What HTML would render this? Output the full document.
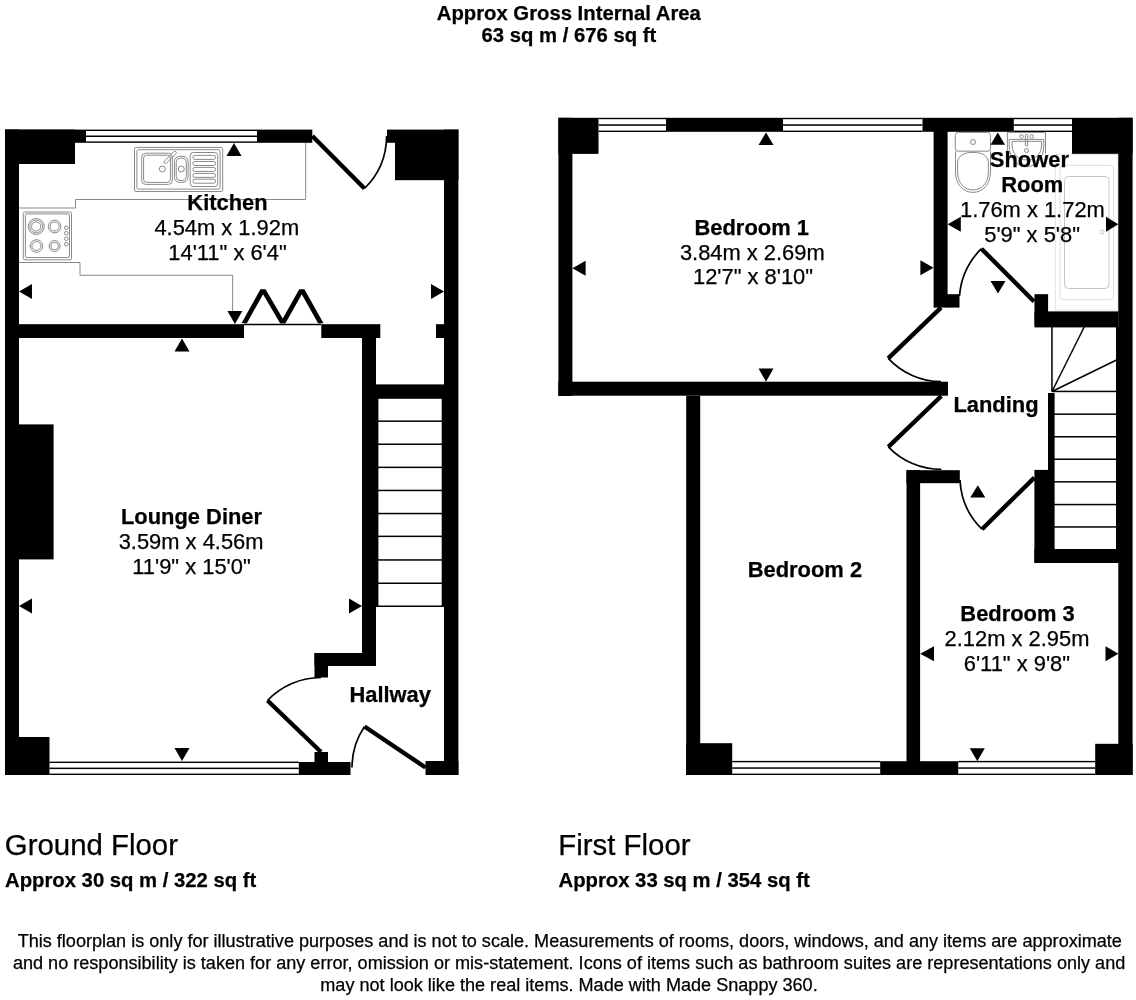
<!DOCTYPE html>
<html>
<head>
<meta charset="utf-8">
<style>
html,body{margin:0;padding:0;background:#fff;}
body{width:1136px;height:1000px;overflow:hidden;}
svg{display:block;will-change:transform;}
text{font-family:"Liberation Sans",sans-serif;fill:#000;stroke:#000;stroke-width:0.25px;}
.b{font-weight:bold;}
.rl{font-size:21.9px;text-anchor:middle;}
.fx{fill:none;stroke:#8a8a8a;stroke-width:1;}
.fl{fill:none;stroke:#c4c4c4;stroke-width:1;}
.leaf{stroke:#000;stroke-width:4.4;fill:none;}
.arc{stroke:#000;stroke-width:1.7;fill:none;}
.tl{stroke:#000;stroke-width:1.5;fill:none;}
</style>
</head>
<body>
<svg width="1136" height="1000" viewBox="0 0 1136 1000">
<rect x="0" y="0" width="1136" height="1000" fill="#fff"/>

<!-- ===== TITLE ===== -->
<text x="568.8" y="19.8" class="b" font-size="20.3" text-anchor="middle">Approx Gross Internal Area</text>
<text x="568.9" y="41.7" class="b" font-size="20.3" text-anchor="middle">63 sq m / 676 sq ft</text>

<!-- ===== GROUND FLOOR ===== -->
<g id="gf">
<!-- kitchen fixtures -->
<g class="fx">
  <path d="M19 208 H75.5 V199.5 H305.7 V143"/>
  <path d="M19 262.5 H80 V275.3 H232.6 V311"/>
  <rect x="134.5" y="147.4" width="88.2" height="44.1" rx="1.5"/>
  <rect x="136.9" y="149.7" width="83.2" height="39.4" rx="1.5"/>
  <rect x="141.7" y="153.2" width="30.6" height="31.2" rx="4"/>
  <rect x="143.6" y="155.2" width="26.8" height="27.2" rx="3"/>
  <rect x="174.4" y="156.4" width="13.7" height="25.9" rx="5"/>
  <rect x="176.2" y="158.2" width="10.1" height="22.3" rx="4"/>
  <rect x="190.2" y="152.5" width="27.5" height="34" rx="3"/>
  <rect x="192.9" y="155.4" width="22.7" height="4" rx="2"/>
  <rect x="192.9" y="161.5" width="22.7" height="4" rx="2"/>
  <rect x="192.9" y="167.4" width="22.7" height="4" rx="2"/>
  <rect x="192.9" y="173.4" width="22.7" height="4" rx="2"/>
  <rect x="192.9" y="179.2" width="22.7" height="4" rx="2"/>
  <circle cx="162.3" cy="169" r="3"/>
  <circle cx="181.3" cy="169" r="3"/>
  <path d="M164.4 161.2 L173.9 151.7 A1.4 1.4 0 0 1 175.9 153.7 L166.4 163.2 A1.4 1.4 0 0 1 164.4 161.2 Z"/>
  <!-- hob -->
  <rect x="23.3" y="212" width="48.2" height="47.8" rx="1.5"/>
  <rect x="25.4" y="213.9" width="44.1" height="43.6" rx="1.5"/>
  <circle cx="36.2" cy="226.5" r="8"/>
  <circle cx="36.2" cy="226.5" r="6.4"/>
  <circle cx="36.2" cy="226.5" r="4.6"/>
  <circle cx="54.6" cy="226.5" r="6.3"/>
  <circle cx="54.6" cy="226.5" r="4.5"/>
  <circle cx="36.4" cy="246" r="6.3"/>
  <circle cx="36.4" cy="246" r="4.5"/>
  <circle cx="54.6" cy="246" r="5.5"/>
  <circle cx="54.6" cy="246" r="3.8"/>
  <circle cx="66.3" cy="227.8" r="1.8"/>
  <circle cx="66.3" cy="233.2" r="1.8"/>
  <circle cx="66.3" cy="238.7" r="1.8"/>
  <circle cx="66.3" cy="244.2" r="1.8"/>
</g>

<!-- walls -->
<g fill="#000">
  <rect x="5" y="129.6" width="14" height="645.4"/>
  <rect x="5" y="129.6" width="81" height="13.2"/>
  <rect x="5" y="129.6" width="70" height="34.4"/>
  <rect x="257" y="129.6" width="55.3" height="13.2"/>
  <rect x="387" y="129.6" width="8" height="13.2"/>
  <rect x="395" y="129.6" width="63.4" height="50.6"/>
  <rect x="444" y="129.6" width="14.4" height="645.4"/>
  <rect x="5" y="324.2" width="239" height="13.8"/>
  <rect x="321.3" y="324.2" width="59" height="13.8"/>
  <rect x="436" y="324.2" width="8" height="13.8"/>
  <rect x="362" y="338" width="14" height="328"/>
  <rect x="376" y="384.4" width="68" height="14.4"/>
  <rect x="314.5" y="653" width="61.5" height="13"/>
  <rect x="314.5" y="653" width="13.5" height="24.5"/>
  <rect x="19" y="424.4" width="34.6" height="135"/>
  <rect x="5" y="737" width="44.5" height="38"/>
  <rect x="298.8" y="762" width="51.7" height="13"/>
  <rect x="314.5" y="752" width="13.5" height="10.5"/>
  <rect x="425.5" y="761" width="32.9" height="14"/>
  <!-- windows -->
  <rect x="86" y="129.6" width="171" height="1.4"/>
  <rect x="86" y="135.5" width="171" height="1.5"/>
  <rect x="86" y="141.4" width="171" height="1.4"/>
  <rect x="49.5" y="761.6" width="249.3" height="1.4"/>
  <rect x="49.5" y="767.6" width="249.3" height="1.5"/>
  <rect x="49.5" y="773.6" width="249.3" height="1.4"/>
  <!-- stairs border -->
  <rect x="376" y="398" width="2.4" height="208.5"/>
  <rect x="441.7" y="398" width="2.5" height="208.5"/>
  <!-- treads -->
  <rect x="376" y="420.4" width="68" height="1.5"/>
  <rect x="376" y="443.5" width="68" height="1.5"/>
  <rect x="376" y="466.6" width="68" height="1.5"/>
  <rect x="376" y="489.7" width="68" height="1.5"/>
  <rect x="376" y="512.8" width="68" height="1.5"/>
  <rect x="376" y="535.6" width="68" height="1.5"/>
  <rect x="376" y="559.2" width="68" height="1.5"/>
  <rect x="376" y="582.5" width="68" height="1.5"/>
  <rect x="376" y="605.5" width="68" height="1.5"/>
  <!-- arrows -->
  <polygon points="234,143 226.5,156 241.5,156"/>
  <polygon points="19,291.6 32,284.1 32,299.1"/>
  <polygon points="444,291.6 431,284.1 431,299.1"/>
  <polygon points="234.9,324 227.4,311 242.4,311"/>
  <polygon points="182,338.6 174.5,351.4 189.5,351.4"/>
  <polygon points="19,606 32,598.5 32,613.5"/>
  <polygon points="362,606 349,598.5 349,613.5"/>
  <polygon points="182,761 174.5,748 189.5,748"/>
</g>
<!-- doors -->
<line class="leaf" x1="312.3" y1="136" x2="364.5" y2="188.5"/>
<path class="arc" d="M364.5 188.5 A74 74 0 0 0 386.6 136"/>
<g fill="#000"><polygon points="241.5,323.2 246.9,323.2 265.7,289.4 260.3,289.4"/><polygon points="280.1,323.2 285.5,323.2 265.7,289.4 260.3,289.4"/><polygon points="280.1,323.2 285.5,323.2 304.5,289.4 299.1,289.4"/><polygon points="318.1,323.2 323.5,323.2 304.5,289.4 299.1,289.4"/></g>
<line class="tl" x1="244" y1="324.6" x2="321.3" y2="324.6"/>
<line class="leaf" x1="321" y1="752" x2="267.5" y2="700.5"/>
<path class="arc" d="M267.5 700.5 A74 74 0 0 1 321 677.5"/>
<line class="leaf" x1="425.5" y1="767.5" x2="364.5" y2="726.5"/>
<path class="arc" d="M364.5 726.5 A73.5 73.5 0 0 0 352 767.5"/>
</g>

<!-- ===== FIRST FLOOR ===== -->
<g id="ff">
<!-- shower fixtures -->
<g class="fx">
  <rect x="955.3" y="132.4" width="35.2" height="18.8" rx="3"/>
  <circle cx="973" cy="142" r="2.5"/>
  <path d="M955.5 151.2 L955.5 172 C955.5 184 963 192.4 973 192.4 C983 192.4 990.5 184 990.5 172 L990.5 151.2"/>
  <path d="M957.6 163 C957.6 155.5 964 152.4 973 152.4 C982 152.4 988.4 155.5 988.4 163 L988.4 172 C988.4 183 981.5 190 973 190 C964.5 190 957.6 183 957.6 172 Z"/>
  <path d="M1007.4 153.7 V132.4 H1045.5 V153.7"/>
  <path d="M1009.2 139.4 H1043.8 V146 C1043.8 158 1036 166.7 1026.5 166.7 C1017 166.7 1009.2 158 1009.2 146 Z"/>
  <path d="M1012.1 141.3 H1041.6 V145 C1041.6 154 1035 160 1026.8 160 C1018.6 160 1012.1 154 1012.1 145 Z"/>
  <circle cx="1021.5" cy="136.5" r="1.8"/>
  <circle cx="1031.7" cy="136.5" r="1.8"/>
  <rect x="1025.4" y="134.3" width="2.3" height="11.9" rx="1.1"/>
  <circle cx="1026.5" cy="150.5" r="2"/>
</g>
<g fill="none" stroke-width="1">
  <rect x="1055.3" y="154.3" width="62.8" height="155.8" stroke="#e2e2e2"/>
  <rect x="1060" y="165.3" width="53.5" height="134.4" rx="3" stroke="#dedede"/>
  <rect x="1064.5" y="176.5" width="44.5" height="112" rx="4" stroke="#c6c6c6"/>
  <circle cx="1102" cy="232" r="2" stroke="#c6c6c6"/>
</g>

<g fill="#000">
  <rect x="558.4" y="117.8" width="14" height="278.2"/>
  <rect x="558.4" y="117.8" width="40.1" height="36.1"/>
  <rect x="666" y="117.8" width="117" height="14"/>
  <rect x="922.5" y="117.8" width="91.3" height="14"/>
  <rect x="1072" y="117.8" width="60.6" height="36"/>
  <rect x="1118.3" y="117.8" width="14.3" height="657.2"/>
  <rect x="933.6" y="131" width="14" height="176.6"/>
  <rect x="947" y="294.2" width="12.5" height="13.4"/>
  <rect x="1034.5" y="294.2" width="13.6" height="31.4"/>
  <rect x="1034.5" y="311.4" width="84" height="16"/>
  <rect x="558.4" y="381.7" width="389.6" height="14"/>
  <rect x="686.2" y="395.7" width="14" height="379.3"/>
  <rect x="686.2" y="743.2" width="46" height="31.8"/>
  <rect x="880.2" y="761.2" width="78" height="13.8"/>
  <rect x="906.5" y="470.2" width="13.6" height="304.8"/>
  <rect x="906.5" y="470.2" width="53.3" height="13"/>
  <rect x="1095.2" y="743.8" width="37.4" height="31.2"/>
  <rect x="1048" y="393" width="6.6" height="77"/>
  <rect x="1034.4" y="469.9" width="20.2" height="93"/>
  <rect x="1034.4" y="549" width="84" height="14"/>
  <rect x="1116" y="327" width="3" height="236"/>
  <!-- windows -->
  <rect x="598.5" y="117.8" width="67.5" height="1.4"/>
  <rect x="598.5" y="124.3" width="67.5" height="1.5"/>
  <rect x="598.5" y="130.6" width="67.5" height="1.4"/>
  <rect x="783" y="117.8" width="139.5" height="1.4"/>
  <rect x="783" y="124.3" width="139.5" height="1.5"/>
  <rect x="783" y="130.6" width="139.5" height="1.4"/>
  <rect x="1013.8" y="117.8" width="58.2" height="1.4"/>
  <rect x="1013.8" y="124.3" width="58.2" height="1.5"/>
  <rect x="1013.8" y="130.6" width="58.2" height="1.4"/>
  <rect x="732.2" y="760.9" width="148" height="1.4"/>
  <rect x="732.2" y="767.3" width="148" height="1.5"/>
  <rect x="732.2" y="773.6" width="148" height="1.4"/>
  <rect x="958.2" y="760.9" width="137" height="1.4"/>
  <rect x="958.2" y="767.3" width="137" height="1.5"/>
  <rect x="958.2" y="773.6" width="137" height="1.4"/>
  <!-- stairs -->
  <rect x="1051.2" y="327" width="1.5" height="64.5"/>
  <rect x="1052" y="390.7" width="65" height="1.5"/>
  <rect x="1052" y="413.4" width="65" height="1.5"/>
  <rect x="1052" y="436" width="65" height="1.5"/>
  <rect x="1052" y="458.5" width="65" height="1.5"/>
  <rect x="1052" y="481.1" width="65" height="1.5"/>
  <rect x="1052" y="503.8" width="65" height="1.5"/>
  <rect x="1052" y="526.2" width="65" height="1.5"/>
  <!-- arrows -->
  <polygon points="766,132.4 758.5,145 773.5,145"/>
  <polygon points="572.4,268.3 585.6,260.8 585.6,275.8"/>
  <polygon points="933.6,267.7 920.4,260.2 920.4,275.2"/>
  <polygon points="766,381.7 758.5,368.4 773.5,368.4"/>
  <polygon points="997.8,132.4 990.5,144.7 1005,144.7"/>
  <polygon points="947.6,224.3 960.8,216.8 960.8,231.8"/>
  <polygon points="1118.3,224.2 1106,216.7 1106,231.7"/>
  <polygon points="998,293.5 990.5,281 1005.5,281"/>
  <polygon points="977.8,485.2 970.3,497.5 985.3,497.5"/>
  <polygon points="920.2,653.8 934,646.3 934,661.3"/>
  <polygon points="1118.4,653.8 1105.5,646.3 1105.5,661.3"/>
  <polygon points="977.3,761.2 969.8,748.2 984.8,748.2"/>
</g>
<line class="tl" x1="1052" y1="391.5" x2="1084.2" y2="327" stroke-width="1.7"/>
<line class="tl" x1="1052" y1="391.5" x2="1116.5" y2="360" stroke-width="1.7"/>
<!-- doors -->
<line class="leaf" x1="1034" y1="301.5" x2="981.4" y2="248.7"/>
<path class="arc" d="M981.4 248.7 A74.3 74.3 0 0 0 959.5 296"/>
<line class="leaf" x1="941" y1="307.6" x2="888.2" y2="358.4"/>
<path class="arc" d="M888.2 358.4 A73.3 73.3 0 0 0 941 381.7"/>
<line class="leaf" x1="941.3" y1="396" x2="888.3" y2="446.8"/>
<path class="arc" d="M888.3 446.8 A73.4 73.4 0 0 0 941.3 469.4"/>
<line class="leaf" x1="1034.4" y1="477.6" x2="982" y2="529.2"/>
<path class="arc" d="M982 529.2 A73.5 73.5 0 0 1 960 480"/>
</g>

<!-- ===== ROOM LABELS ===== -->
<text x="227.5" y="209.6" class="rl b">Kitchen</text>
<text x="226.8" y="234.9" class="rl">4.54m x 1.92m</text>
<text x="227.5" y="259.5" class="rl">14'11" x 6'4"</text>

<text x="191.5" y="524.1" class="rl b">Lounge Diner</text>
<text x="191.1" y="548.8" class="rl">3.59m x 4.56m</text>
<text x="191.5" y="573.7" class="rl">11'9" x 15'0"</text>

<text x="390.2" y="701.8" class="rl b">Hallway</text>

<text x="751.7" y="234.8" class="rl b">Bedroom 1</text>
<text x="752.3" y="259.7" class="rl">3.84m x 2.69m</text>
<text x="753" y="284.2" class="rl">12'7" x 8'10"</text>

<text x="1029.4" y="167.1" class="rl b">Shower</text>
<text x="1032.3" y="192.4" class="rl b">Room</text>
<text x="1032.4" y="216.6" class="rl">1.76m x 1.72m</text>
<text x="1032.1" y="242" class="rl">5'9" x 5'8"</text>

<text x="996" y="411.9" class="rl b">Landing</text>

<text x="804.9" y="576.5" class="rl b">Bedroom 2</text>

<text x="1017.5" y="621.3" class="rl b">Bedroom 3</text>
<text x="1017" y="646.3" class="rl">2.12m x 2.95m</text>
<text x="1016.9" y="671.3" class="rl">6'11" x 9'8"</text>

<!-- ===== FLOOR TITLES ===== -->
<text x="4.8" y="855.2" font-size="29.4">Ground Floor</text>
<text x="5" y="886.6" class="b" font-size="20.3">Approx 30 sq m / 322 sq ft</text>
<text x="558.3" y="855.2" font-size="29.4">First Floor</text>
<text x="558.5" y="886.6" class="b" font-size="20.3">Approx 33 sq m / 354 sq ft</text>

<!-- ===== FOOTER ===== -->
<g font-size="18.08" text-anchor="middle">
<text x="569.8" y="947.1">This floorplan is only for illustrative purposes and is not to scale. Measurements of rooms, doors, windows, and any items are approximate</text>
<text x="569.1" y="969">and no responsibility is taken for any error, omission or mis-statement. Icons of items such as bathroom suites are representations only and</text>
<text x="569" y="991.1">may not look like the real items. Made with Made Snappy 360.</text>
</g>
</svg>
</body>
</html>
